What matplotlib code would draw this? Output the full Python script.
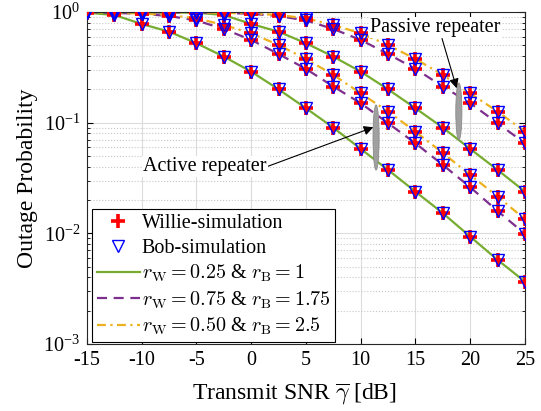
import numpy as np
import matplotlib
matplotlib.use('Agg')
import matplotlib.pyplot as plt
from matplotlib.patches import Ellipse

plt.rcParams['font.family'] = 'serif'
plt.rcParams['font.serif'] = ['Liberation Serif', 'DejaVu Serif']
plt.rcParams['mathtext.fontset'] = 'cm'
plt.rcParams['axes.unicode_minus'] = False

# transmit SNR (dB)
snr_db = [-15, -12.5, -10, -7.5, -5, -2.5, 0, 2.5, 5, 7.5, 10, 12.5, 15, 17.5, 20, 22.5, 25]

# active repeater
act_green = [0.986, 0.939, 0.779, 0.664, 0.522, 0.395, 0.289, 0.200, 0.135, 0.0901,
             0.0579, 0.0374, 0.0238, 0.0152, 0.00934, 0.00575, 0.00366]
act_purple = [0.990, 0.981, 0.963, 0.920, 0.838, 0.702, 0.559, 0.417, 0.306, 0.212,
              0.150, 0.0988, 0.0651, 0.0415, 0.0261, 0.0159, 0.00988]
act_orange = [0.990, 0.983, 0.969, 0.939, 0.877, 0.763, 0.642, 0.503, 0.376, 0.270,
              0.184, 0.126, 0.0829, 0.0532, 0.0337, 0.0215, 0.0134]

# passive repeater
pas_green = [0.999, 0.998, 0.995, 0.991, 0.986, 0.939, 0.779, 0.664, 0.522, 0.395,
             0.289, 0.200, 0.135, 0.0901, 0.0579, 0.0374, 0.0238]
pas_purple = [0.999, 0.998, 0.996, 0.993, 0.990, 0.981, 0.963, 0.920, 0.838, 0.702,
              0.559, 0.417, 0.306, 0.212, 0.150, 0.0988, 0.0651]
pas_orange = [0.999, 0.999, 0.997, 0.994, 0.990, 0.983, 0.969, 0.939, 0.877, 0.763,
              0.642, 0.503, 0.376, 0.270, 0.184, 0.126, 0.0829]

c_green = '#77AC30'
c_purple = '#7E2F8E'
c_orange = '#EDB120'
ls_dash = (0, (4.5, 3))
ls_dashdot = (0, (4, 2, 1, 2))

fig = plt.figure(figsize=(5.41, 4.11), dpi=100)
ax = fig.add_axes([0.1608, 0.163, 0.8096, 0.8078])

curves = [(act_green, c_green, '-'), (act_purple, c_purple, ls_dash),
          (act_orange, c_orange, ls_dashdot),
          (pas_green, c_green, '-'), (pas_purple, c_purple, ls_dash),
          (pas_orange, c_orange, ls_dashdot)]

for vals, col, ls in curves:
    ax.plot(snr_db, vals, color=col, linestyle=ls, lw=1.6, zorder=2)
for vals, col, ls in curves:
    ax.plot(snr_db, vals, '+', color='r', ms=10.5, mew=2.6, zorder=3)
    ax.plot(snr_db, vals, 'v', mfc='none', mec='b', ms=9, mew=1.0, zorder=4)

# legend handles
h_w, = ax.plot([], [], '+', color='r', ms=10.5, mew=2.6)
h_b, = ax.plot([], [], 'v', mfc='none', mec='b', ms=9, mew=1.0)
h_g, = ax.plot([], [], color=c_green, lw=1.6)
h_p, = ax.plot([], [], color=c_purple, lw=1.6, linestyle=ls_dash)
h_o, = ax.plot([], [], color=c_orange, lw=1.6, linestyle=ls_dashdot)

leg = ax.legend([h_w, h_b, h_g, h_p, h_o],
                ['Willie-simulation', 'Bob-simulation',
                 r'$r_\mathrm{W} = 0.25$ & $r_\mathrm{B} = 1$',
                 r'$r_\mathrm{W} = 0.75$ & $r_\mathrm{B} = 1.75$',
                 r'$r_\mathrm{W} = 0.50$ & $r_\mathrm{B} = 2.5$'],
                loc='lower left', bbox_to_anchor=(0.012, 0.006), fontsize=14.5,
                fancybox=False, framealpha=1, edgecolor='k', handlelength=2.1,
                handletextpad=0.1, labelspacing=0.25, borderpad=0.25,
                borderaxespad=0)
leg.get_frame().set_linewidth(0.8)
leg.set_zorder(10)

ax.set_yscale('log')
ax.set_xlim(-15, 25)
ax.set_ylim(1e-3, 1)
ax.set_xticks(np.arange(-15, 26, 5))
ax.grid(True, which='major', color='#dcdcdc', lw=0.8, zorder=0)
ax.grid(True, which='minor', axis='y', color='#c8c8c8', lw=0.8, linestyle=':', zorder=0)
ax.set_axisbelow(True)
ax.tick_params(which='both', direction='in', top=True, right=True, labelsize=14.5)
ax.tick_params(which='major', length=4, pad=5)
ax.tick_params(which='minor', length=2.5)
for sp in ax.spines.values():
    sp.set_linewidth(0.8)
    sp.set_color('#262626')

ax.set_xlabel(r'Transmit SNR $\overline{\gamma}$ [dB]', fontsize=17)
ax.set_ylabel('Outage Probability', fontsize=17, labelpad=4)
ax.xaxis.set_label_coords(0.473, -0.115)

# repeater annotations
ax.add_patch(Ellipse((0.849, 0.700), 0.014, 0.172, transform=ax.transAxes,
                     facecolor='#a0a0a0', edgecolor='#8a8a8a', lw=0.6, zorder=5))
ax.add_patch(Ellipse((0.660, 0.622), 0.014, 0.196, transform=ax.transAxes,
                     facecolor='#a0a0a0', edgecolor='#8a8a8a', lw=0.6, zorder=5))

ax.annotate('Passive repeater', xy=(18.76, 0.2046), xytext=(16.8, 0.717),
            fontsize=14.5, ha='center', va='center', zorder=6,
            bbox=dict(boxstyle='square,pad=0.05', fc='white', ec='none'),
            arrowprops=dict(arrowstyle='-|>', color='k', lw=0.8, mutation_scale=14,
                            shrinkA=0, shrinkB=0, relpos=(0.55, 0)))
ax.annotate('Active repeater', xy=(11.15, 0.0909), xytext=(-4.22, 0.040),
            fontsize=14.5, ha='center', va='center', zorder=6,
            bbox=dict(boxstyle='square,pad=0.05', fc='white', ec='none'),
            arrowprops=dict(arrowstyle='-|>', color='k', lw=0.8, mutation_scale=14,
                            shrinkA=0, shrinkB=0, relpos=(1, 0.5)))

fig.savefig('out.png', dpi=100)
